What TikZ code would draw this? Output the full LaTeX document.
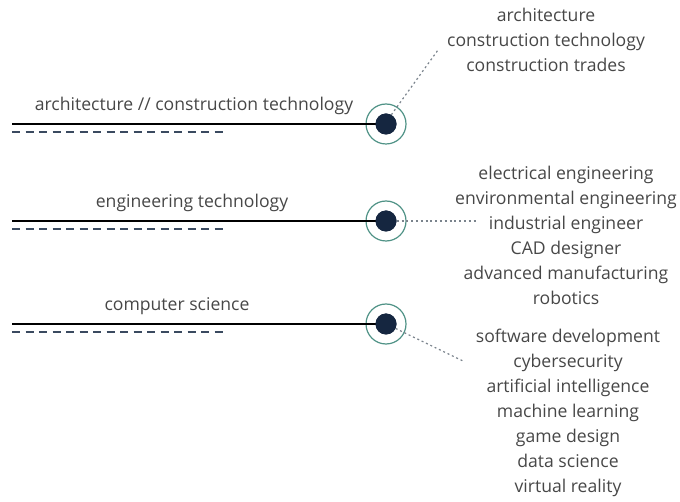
\documentclass[tikz,border=0pt]{standalone}
\usepackage{fontspec}
\setmainfont{Open Sans}
\definecolor{txt}{HTML}{474747}
\definecolor{ring}{HTML}{4F9286}
\definecolor{navy}{HTML}{152640}
\definecolor{dashc}{HTML}{3A4A60}
\definecolor{dotc}{HTML}{7A838C}
\begin{document}
\begin{tikzpicture}[x=1pt,y=-1pt,
  lbl/.style={text=txt,font=\fontsize{17.6}{25}\selectfont,inner sep=0pt},
  blk/.style={lbl,align=center},
  ringnode/.style={circle,draw=ring,line width=1.2pt,minimum size=40pt,inner sep=0pt},
  dotnode/.style={circle,fill=navy,minimum size=21pt,inner sep=0pt},
  mainline/.style={line width=2.8pt,black},
  dashline/.style={line width=2pt,dashc,dash pattern=on 8pt off 5.5pt},
  dotline/.style={dotc,line width=1.2pt,dash pattern=on 2pt off 2.8pt}]
\useasboundingbox (0,0) rectangle (680,502);
% rows
\foreach \i/\y in {1/124,2/221,3/324}{
  \coordinate (s\i) at (12,\y);
  \coordinate (d\i) at (12,\y+8.5);
  \coordinate (e\i) at (224,\y+8.5);
  \node[ringnode] (r\i) at (386,\y) {};
  \node[dotnode] (c\i) at (386,\y) {};
  \draw[mainline] (s\i) -- (c\i.center);
  \draw[dashline] (d\i) -- (e\i);
}
\node[dotnode] at (c1) {};
\node[dotnode] at (c2) {};
\node[dotnode] at (c3) {};
\node[lbl] (l1) at (194,106) {architecture // construction technology};
\node[lbl] (l2) at (192,202.5) {engineering technology};
\node[lbl] (l3) at (177,306) {computer science};
% lists
\node[blk] (b1) at (546,40) {architecture\\construction technology\\construction trades};
\node[blk] (b2) at (566,235) {electrical engineering\\environmental engineering\\industrial engineer\\CAD designer\\advanced manufacturing\\robotics};
\node[blk] (b3) at (568,413) {software development\\cybersecurity\\artificial intelligence\\machine learning\\game design\\data science\\virtual reality};
\coordinate (t1) at (438,50);
\coordinate (t2) at (476,221);
\coordinate (t3) at (463,361);
\draw[dotline] (c1.60) -- (t1);
\draw[dotline] (c2.east) -- (t2);
\draw[dotline] (c3.-25) -- (t3);
\end{tikzpicture}
\end{document}
